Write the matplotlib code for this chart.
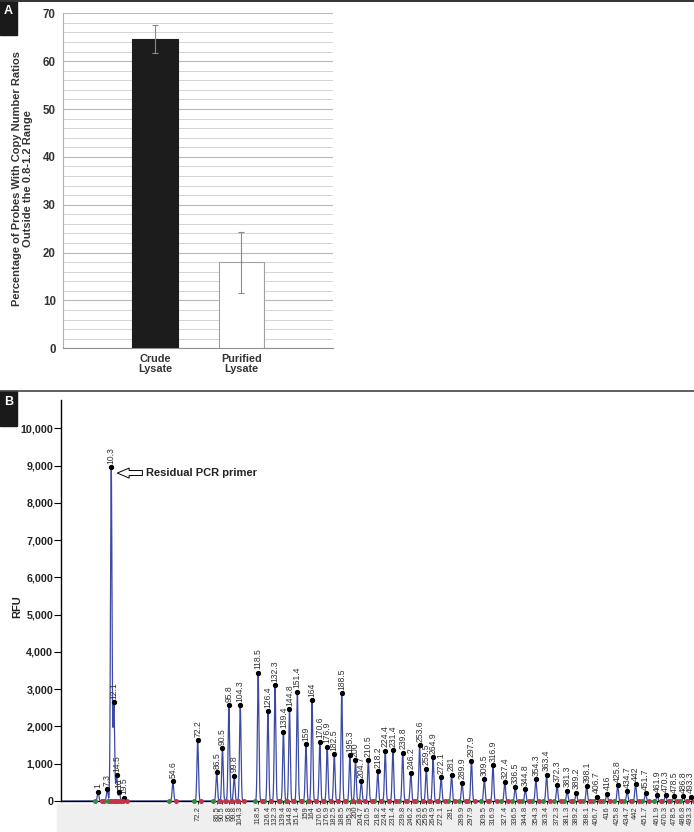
import numpy as np
import matplotlib
matplotlib.use('Agg')
import matplotlib.pyplot as plt
from matplotlib.patches import Rectangle
from matplotlib.lines import Line2D
from matplotlib.ticker import MultipleLocator, FuncFormatter

plt.rcParams['font.family'] = ['Liberation Sans', 'DejaVu Sans']

# ---------- panel A data ----------
groups = ['Crude\nLysate', 'Purified\nLysate']
pct_outside = [64.6, 18.0]
pct_err = [2.9, 6.4]

# ---------- panel B data (electropherogram peaks) ----------
peak_size = ['1', '7.3', '10.3', '12.1', '14.5', '16', '19.5', '54.6',
             '72.2', '86.5', '90.5', '95.8', '99.8', '104.3',
             '118.5', '126.4', '132.3', '139.4', '144.8', '151.4',
             '159', '164', '170.6', '176.9', '182.5', '188.5',
             '195.3', '200', '204.7', '210.5', '218.2', '224.4', '231.4', '239.8',
             '246.2', '253.6', '259.5', '264.9', '272.1', '281', '289.9', '297.9',
             '309.5', '316.9', '327.4', '336.5', '344.8', '354.3', '363.4', '372.3',
             '381.3', '389.2', '398.1', '406.7', '416', '425.8', '434.7', '442',
             '451.7', '461.9', '470.3', '478.5', '486.8', '493.3']
# migration position of each peak (scan units)
peak_scan = [97.7, 106.7, 110.7, 113.3, 116.0, 118.7, 123.2, 171.7,
             196.2, 215.0, 220.7, 227.0, 232.3, 238.3,
             256.0, 265.7, 272.7, 281.0, 287.0, 294.8,
             303.3, 309.3, 317.0, 324.3, 331.3, 338.7,
             346.7, 352.3, 358.0, 365.0, 374.3, 381.7, 389.3, 399.0,
             407.0, 415.7, 422.3, 429.0, 437.0, 447.3, 457.7, 467.0,
             479.7, 488.3, 500.0, 510.3, 520.3, 530.7, 541.3, 551.7,
             561.7, 570.7, 581.0, 590.7, 601.0, 611.7, 621.0, 629.3,
             639.3, 650.7, 659.0, 667.3, 676.7, 683.7]
peak_rfu = [250, 314, 8955, 2650, 695, 250, 85, 528,
            1632, 778, 1422, 2567, 680, 2567,
            3443, 2406, 3112, 1860, 2468, 2930,
            1521, 2710, 1592, 1458, 1261, 2889,
            1226, 1092, 528, 1100, 796, 1350, 1368, 1300,
            760, 1494, 867, 1172, 636, 706, 491, 1081,
            586, 958, 510, 367, 314, 582, 706, 429,
            276, 223, 394, 115, 196, 421, 260, 456,
            206, 153, 161, 126, 126, 115]
n_unlabelled = 8  # first peaks have no size label under the axis

W, H = 694, 832
fig = plt.figure(figsize=(W / 100, H / 100), dpi=100)


def fx(px):
    return px / W


def fy(py):
    return 1 - py / H


# ================== panel A ==================
axA = fig.add_axes([fx(62.7), fy(348.3), fx(333 - 62.7), (348.3 - 13.3) / H])
xA = np.arange(len(groups))
axA.bar(xA, pct_outside, width=0.53, color=['#1c1c1c', 'white'],
        edgecolor=['#1c1c1c', '#a0a0a0'], linewidth=0.8, zorder=3)
axA.errorbar(xA, pct_outside, yerr=pct_err, fmt='none', ecolor='#8a8a8a',
             elinewidth=0.8, capsize=2, capthick=0.8, zorder=4)
axA.set_xlim(-1.07, 2.06)
axA.set_ylim(0, 70)
axA.yaxis.set_major_locator(MultipleLocator(10))
axA.yaxis.set_minor_locator(MultipleLocator(2))
axA.grid(axis='y', which='major', color='#b8b8b8', linewidth=0.8, zorder=0)
axA.grid(axis='y', which='minor', color='#d4d4d4', linewidth=0.7, zorder=0)
for s in ['top', 'right']:
    axA.spines[s].set_visible(False)
axA.spines['left'].set_color('#b0b0b0')
axA.spines['bottom'].set_color('#909090')
axA.tick_params(axis='y', which='both', length=0, pad=5, labelsize=8.3,
                labelcolor='#333333')
axA.tick_params(axis='x', length=0, pad=4, labelsize=7.8, labelcolor='#333333')
axA.set_xticks(xA)
axA.set_xticklabels(groups, fontweight='bold', linespacing=1.0)
for t in axA.get_yticklabels():
    t.set_fontweight('bold')
fig.text(fx(22.5), fy(178.5),
         'Percentage of Probes With Copy Number Ratios\nOutside the 0.8-1.2 Range',
         rotation=90, ha='center', va='center', multialignment='center',
         fontsize=8.0, fontweight='bold', color='#333333', linespacing=1.05)

# ================== panel B ==================
axB = fig.add_axes([fx(61), fy(801), fx(W - 61) + 0.01, (801 - 400) / H])
x = np.arange(61, 700, 0.05)
sig = 0.75
trace = np.zeros_like(x)
for p, h in zip(peak_scan, peak_rfu):
    trace += h * np.exp(-(x - p) ** 2 / (2 * sig ** 2))
axB.plot(x, trace, color='#3d4aa3', linewidth=0.9, zorder=2)
axB.plot(peak_scan, peak_rfu, 'o', color='black', markersize=2.8, zorder=4)

ps = np.array(peak_scan)
axB.plot(ps - 3.5, np.zeros_like(ps), 'o', color='#2f8f3a', markersize=2.6,
         clip_on=False, zorder=5)
axB.plot(ps + 3.5, np.zeros_like(ps), 'o', color='#c8314a', markersize=2.6,
         clip_on=False, zorder=5)

for lab, p, h in zip(peak_size, peak_scan, peak_rfu):
    axB.annotate(lab, xy=(p, h), xytext=(0, 2.5), textcoords='offset points',
                 rotation=90, ha='center', va='bottom', fontsize=6.2,
                 color='#333333')

axB.set_xlim(61, 694)
axB.set_ylim(0, 10760)
axB.yaxis.set_major_locator(MultipleLocator(1000))
axB.yaxis.set_major_formatter(FuncFormatter(lambda v, _: f'{int(v):,}'))
for s in ['top', 'right']:
    axB.spines[s].set_visible(False)
axB.spines['left'].set_linewidth(1.0)
axB.spines['bottom'].set_linewidth(1.0)
axB.tick_params(axis='y', length=5, width=0.8, pad=0.5, labelsize=7.7,
                labelcolor='#222222')
for t in axB.get_yticklabels():
    t.set_fontweight('bold')
axB.set_xticks(peak_scan[n_unlabelled:])
axB.set_xticklabels(peak_size[n_unlabelled:], rotation=90, fontsize=5.5,
                    color='#333333')
axB.tick_params(axis='x', length=2.5, width=0.6, pad=1)
fig.text(fx(17), fy(607), 'RFU', rotation=90, ha='center', va='center',
         fontsize=8, fontweight='bold', color='#222222')

# residual primer call-out
axB.annotate('', xy=(116.7, 8800), xytext=(141.5, 8800),
             arrowprops=dict(arrowstyle='simple,head_length=0.85,head_width=0.72,tail_width=0.36',
                             fc='white', ec='black', lw=0.7,
                             shrinkA=0, shrinkB=0))
axB.text(145, 8800, 'Residual PCR primer', ha='left', va='center',
         fontsize=8, fontweight='bold', color='#222222')

# ================== frame pieces ==================
fig.patches.append(Rectangle((fx(57), 0), 1, (832 - 804) / H,
                             transform=fig.transFigure, color='#efefef',
                             zorder=-5))
fig.add_artist(Line2D([0, 1], [fy(0.7), fy(0.7)], color='#333333', lw=1.4))
fig.add_artist(Line2D([0, 1], [fy(391), fy(391)], color='#444444', lw=1.2))
for letter, top in [('A', 0), ('B', 391)]:
    fig.patches.append(Rectangle((0, fy(top + 35)), fx(17), 35 / H,
                                 transform=fig.transFigure, color='#1a1a1a'))
    fig.text(fx(8.5), fy(top + 11), letter, ha='center', va='center',
             fontsize=9, fontweight='bold', color='white')

fig.savefig('out.png', dpi=100)
